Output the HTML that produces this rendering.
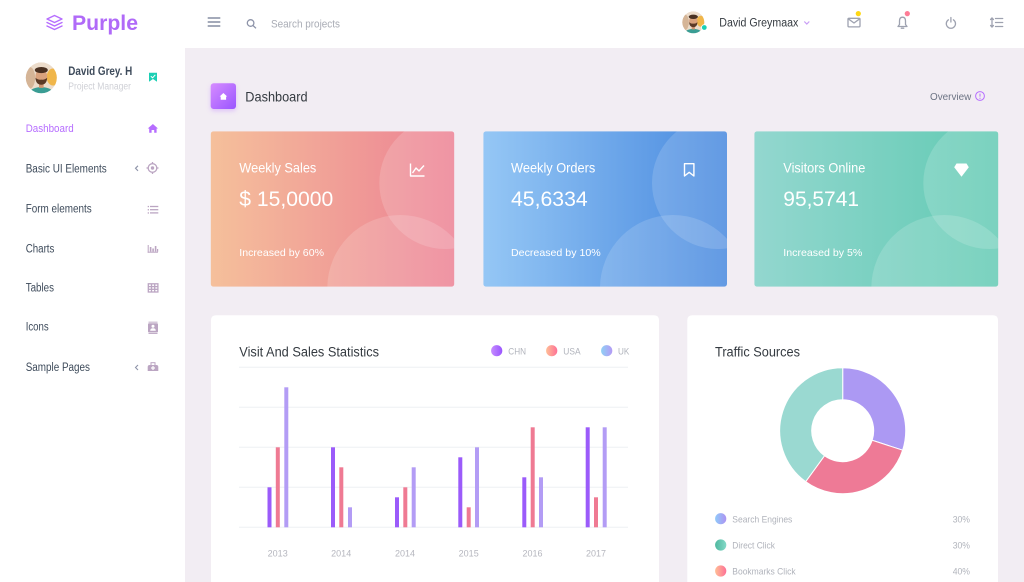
<!DOCTYPE html>
<html><head><meta charset="utf-8"><style>
html,body{margin:0;padding:0;}
body{width:1024px;height:582px;overflow:hidden;background:#f2edf3;}
svg{display:block;}
text{font-family:"Liberation Sans",Arial,sans-serif;}
</style></head><body>
<svg width="1024" height="582" viewBox="0 0 1024 582" xmlns="http://www.w3.org/2000/svg">
<defs>
<linearGradient id="gA" x1="0" y1="0" x2="1" y2="0"><stop offset="0" stop-color="#f5c09b"/><stop offset="1" stop-color="#ec8093"/></linearGradient>
<linearGradient id="gB" x1="0" y1="0" x2="1" y2="0"><stop offset="0" stop-color="#95c7f5"/><stop offset="1" stop-color="#4889df"/></linearGradient>
<linearGradient id="gC" x1="0" y1="0" x2="1" y2="0"><stop offset="0" stop-color="#93d7cf"/><stop offset="1" stop-color="#62cab3"/></linearGradient>
<linearGradient id="gIcon" x1="0" y1="0" x2="1" y2="1"><stop offset="0" stop-color="#d68cff"/><stop offset="1" stop-color="#9a55ff"/></linearGradient>
<linearGradient id="gChn" x1="0" y1="0" x2="1" y2="0"><stop offset="0" stop-color="#c58cff"/><stop offset="1" stop-color="#9a55ff"/></linearGradient>
<linearGradient id="gUsa" x1="0" y1="0" x2="1" y2="0"><stop offset="0" stop-color="#ffbf96"/><stop offset="1" stop-color="#fe7096"/></linearGradient>
<linearGradient id="gUk" x1="0" y1="0" x2="1" y2="0"><stop offset="0" stop-color="#8fd0f5"/><stop offset="1" stop-color="#b49af5"/></linearGradient>
<linearGradient id="gSE" x1="0" y1="0" x2="1" y2="0"><stop offset="0" stop-color="#90caf9"/><stop offset="1" stop-color="#ad93f2"/></linearGradient>
<linearGradient id="gDC" x1="0" y1="0" x2="1" y2="0"><stop offset="0" stop-color="#4fb89f"/><stop offset="1" stop-color="#84d9c8"/></linearGradient>
<linearGradient id="gBM" x1="0" y1="0" x2="1" y2="0"><stop offset="0" stop-color="#ffbf96"/><stop offset="1" stop-color="#fe7096"/></linearGradient>
<clipPath id="cA"><rect x="210.7" y="131.3" width="243.6" height="155.4" rx="3"/></clipPath>
<clipPath id="cB"><rect x="483.3" y="131.3" width="243.7" height="155.4" rx="3"/></clipPath>
<clipPath id="cC"><rect x="754.3" y="131.3" width="244" height="155.4" rx="3"/></clipPath>
<clipPath id="cAv" clipPathUnits="userSpaceOnUse"><circle cx="0" cy="0" r="1"/></clipPath>
<filter id="sh" x="-50%" y="-50%" width="200%" height="200%"><feDropShadow dx="0" dy="2" stdDeviation="2.5" flood-color="#b66dff" flood-opacity="0.35"/></filter>
</defs>

<!-- header & sidebar -->
<rect x="0" y="0" width="1024" height="48" fill="#ffffff"/>
<rect x="0" y="48" width="185" height="534" fill="#ffffff"/>

<!-- logo -->
<g fill="none" stroke="#b66dff" stroke-width="1.4" stroke-linejoin="round" stroke-linecap="round">
<path d="M54.5,15.5 L62,19 L54.5,22.5 L47,19 Z"/>
<path d="M47,22.5 L54.5,26 L62,22.5"/>
<path d="M47,26 L54.5,29.5 L62,26"/>
</g>
<text x="72" y="30" font-size="21" font-weight="bold" fill="#b06af8" textLength="66" lengthAdjust="spacingAndGlyphs">Purple</text>

<!-- hamburger & search -->
<g stroke="#8e94a9" stroke-width="1.6"><line x1="207.7" y1="18" x2="220.3" y2="18"/><line x1="207.7" y1="22" x2="220.3" y2="22"/><line x1="207.7" y1="26" x2="220.3" y2="26"/></g>
<g stroke="#8e94a9" stroke-width="1.3" fill="none"><circle cx="250.6" cy="23" r="3.3"/><line x1="253" y1="25.5" x2="256" y2="28.3"/></g>
<text x="271" y="27.3" font-size="11" fill="#a9acb5" textLength="69" lengthAdjust="spacingAndGlyphs">Search projects</text>

<!-- header right -->
<g transform="translate(693.3,22.3) scale(11)">
<g clip-path="url(#cAv)">
<circle r="1" fill="#ecdccb"/>
<ellipse cx="0.7" cy="-0.1" rx="0.4" ry="0.5" fill="#f0b64a"/>
<ellipse cx="-0.75" cy="0" rx="0.35" ry="0.7" fill="#d5b597"/>
<ellipse cx="0" cy="1.15" rx="0.9" ry="0.55" fill="#3a9d94"/>
<rect x="-0.15" y="0.3" width="0.3" height="0.35" fill="#cf9672"/>
<ellipse cx="0" cy="-0.08" rx="0.38" ry="0.48" fill="#d9a27d"/>
<ellipse cx="0" cy="-0.5" rx="0.42" ry="0.2" fill="#4a3122"/>
<path d="M-0.38,0 Q-0.35,0.45 0,0.45 Q0.35,0.45 0.38,0 Q0.2,0.15 0,0.12 Q-0.2,0.15 -0.38,0 Z" fill="#5b3a26"/>
</g></g>
<circle cx="704.3" cy="27.5" r="2.8" fill="#1bcfb4" stroke="#fff" stroke-width="0.8"/>
<text x="719.3" y="26.7" font-size="11.5" fill="#343a40" textLength="79" lengthAdjust="spacingAndGlyphs">David Greymaax</text>
<polyline points="804.3,21.5 806.8,24 809.3,21.5" fill="none" stroke="#c89cf5" stroke-width="1.2"/>
<g fill="none" stroke="#9ea2b0" stroke-width="1.3" stroke-linejoin="round" stroke-linecap="round">
<rect x="848" y="18.3" width="12" height="8.6" rx="1"/>
<polyline points="848.3,18.8 854,23 859.7,18.8"/>
<path d="M898,26.5 L899.5,24.5 L899.5,21 Q899.5,17.2 902.5,17.2 Q905.5,17.2 905.5,21 L905.5,24.5 L907,26.5 Z"/>
<path d="M901.3,28.2 L903.7,28.2"/>
<path d="M948.4,19.8 A4.6,4.6 0 1 0 953.4,19.8"/>
<line x1="950.9" y1="17.5" x2="950.9" y2="22"/>
<line x1="992" y1="18" x2="992" y2="27"/>
<polyline points="990.6,19.5 992,18 993.4,19.5"/>
<polyline points="990.6,25.5 992,27 993.4,25.5"/>
<line x1="995.5" y1="18.5" x2="1002.7" y2="18.5"/>
<line x1="995.5" y1="22.5" x2="1002.7" y2="22.5"/>
<line x1="995.5" y1="26.5" x2="1002.7" y2="26.5"/>
</g>
<circle cx="858.3" cy="13.6" r="2.6" fill="#fed713"/>
<circle cx="907.3" cy="13.6" r="2.6" fill="#fe7c96"/>

<!-- sidebar profile -->
<g transform="translate(41.3,77.8) scale(15.5)">
<g clip-path="url(#cAv)">
<circle r="1" fill="#ecdccb"/>
<ellipse cx="0.75" cy="-0.05" rx="0.4" ry="0.55" fill="#f0b64a"/>
<ellipse cx="-0.75" cy="0" rx="0.35" ry="0.7" fill="#d5b597"/>
<ellipse cx="0" cy="1.15" rx="0.9" ry="0.55" fill="#3a9d94"/>
<rect x="-0.15" y="0.3" width="0.3" height="0.35" fill="#cf9672"/>
<ellipse cx="0" cy="-0.08" rx="0.38" ry="0.48" fill="#d9a27d"/>
<ellipse cx="0" cy="-0.5" rx="0.42" ry="0.2" fill="#4a3122"/>
<path d="M-0.38,0 Q-0.35,0.45 0,0.45 Q0.35,0.45 0.38,0 Q0.2,0.15 0,0.12 Q-0.2,0.15 -0.38,0 Z" fill="#5b3a26"/>
</g></g>
<text x="68.3" y="75" font-size="11.5" font-weight="bold" fill="#3e4b5b" textLength="64" lengthAdjust="spacingAndGlyphs">David Grey. H</text>
<text x="68.3" y="89.3" font-size="10" fill="#cfd0d6" textLength="62.7" lengthAdjust="spacingAndGlyphs">Project Manager</text>
<path d="M149,72.7 L157,72.7 L157,81.7 L153,79 L149,81.7 Z" fill="#1bcfb4"/>
<polyline points="150.8,76.2 152.6,77.8 155.3,74.8" fill="none" stroke="#fff" stroke-width="1"/>

<!-- nav -->
<text x="25.7" y="132" font-size="11" fill="#b66dff" textLength="48" lengthAdjust="spacingAndGlyphs">Dashboard</text>
<path d="M147.7,128.5 L152.9,124 L158,128.5 L156.6,128.5 L156.6,132.7 L154.2,132.7 L154.2,130 L151.6,130 L151.6,132.7 L149.2,132.7 L149.2,128.5 Z" fill="#b66dff"/>
<g fill="#3e4b5b">
<text x="25.7" y="172.3" font-size="11.5" textLength="81" lengthAdjust="spacingAndGlyphs">Basic UI Elements</text>
<text x="25.7" y="212.7" font-size="11.5" textLength="66" lengthAdjust="spacingAndGlyphs">Form elements</text>
<text x="25.7" y="252.3" font-size="11.5" textLength="28.7" lengthAdjust="spacingAndGlyphs">Charts</text>
<text x="25.7" y="291.7" font-size="11.5" textLength="28.3" lengthAdjust="spacingAndGlyphs">Tables</text>
<text x="25.7" y="330.7" font-size="11.5" textLength="23" lengthAdjust="spacingAndGlyphs">Icons</text>
<text x="25.7" y="371" font-size="11.5" textLength="64.3" lengthAdjust="spacingAndGlyphs">Sample Pages</text>
</g>
<g fill="none" stroke="#8e94a9" stroke-width="1.1"><polyline points="138,165.8 135.5,168.3 138,170.8"/><polyline points="138,365 135.5,367.5 138,370"/></g>
<g stroke="#bba5c2" fill="none" stroke-width="1.3">
<circle cx="152.5" cy="168" r="4.3"/>
<line x1="152.5" y1="162" x2="152.5" y2="163.5"/><line x1="152.5" y1="172.5" x2="152.5" y2="174"/>
<line x1="146.5" y1="168" x2="148" y2="168"/><line x1="157" y1="168" x2="158.5" y2="168"/>
<line x1="150" y1="206.5" x2="158.3" y2="206.5"/><line x1="150" y1="209.7" x2="158.3" y2="209.7"/><line x1="150" y1="212.9" x2="158.3" y2="212.9"/>
<rect x="148.3" y="283.8" width="9.6" height="8.2"/>
<line x1="148.3" y1="286.6" x2="157.9" y2="286.6"/><line x1="148.3" y1="289.3" x2="157.9" y2="289.3"/>
<line x1="151.5" y1="283.8" x2="151.5" y2="292"/><line x1="154.7" y1="283.8" x2="154.7" y2="292"/>
</g>
<g fill="#bba5c2">
<circle cx="152.5" cy="168" r="1.7"/>
<rect x="147.7" y="205.9" width="1.3" height="1.3"/><rect x="147.7" y="209.1" width="1.3" height="1.3"/><rect x="147.7" y="212.3" width="1.3" height="1.3"/>
<rect x="147.7" y="245" width="1" height="7.7"/><rect x="147.7" y="251.7" width="10.3" height="1"/>
<rect x="149.8" y="247" width="1.6" height="4.7"/><rect x="152.3" y="248.5" width="1.6" height="3.2"/><rect x="154.8" y="246" width="1.6" height="5.7"/><rect x="157" y="249" width="1.2" height="2.7"/>
<rect x="148" y="323.3" width="10" height="9.2" rx="1"/>
<rect x="148.5" y="321.7" width="9" height="0.9"/><rect x="148.5" y="333" width="9" height="0.9"/>
<path d="M149.7,365 L156.3,365 Q158.3,365 158.3,367 L158.3,371 L147.7,371 L147.7,367 Q147.7,365 149.7,365 Z"/>
<rect x="151" y="362.7" width="4" height="2.8" fill="none" stroke="#bba5c2" stroke-width="1"/>
</g>
<g fill="#fff"><circle cx="153" cy="326.2" r="1.5"/><path d="M150.2,330.8 Q150.2,328.3 153,328.3 Q155.8,328.3 155.8,330.8 Z"/>
<rect x="152.4" y="366" width="1.2" height="4"/><rect x="151" y="367.4" width="4" height="1.2"/></g>

<!-- page title -->
<rect x="210.7" y="83.3" width="25.3" height="25.7" rx="3" fill="url(#gIcon)" filter="url(#sh)"/>
<path d="M219.6,96.5 L223.4,93 L227.2,96.5 L226.1,96.5 L226.1,99.8 L220.7,99.8 L220.7,96.5 Z" fill="#fff"/>
<text x="245.3" y="101.7" font-size="14" fill="#343a40" textLength="62.3" lengthAdjust="spacingAndGlyphs">Dashboard</text>
<text x="930" y="100" font-size="10.5" fill="#6c7383" textLength="41.3" lengthAdjust="spacingAndGlyphs">Overview</text>
<circle cx="980" cy="96" r="4.4" fill="none" stroke="#b66dff" stroke-width="1"/>
<line x1="980" y1="93.6" x2="980" y2="96.6" stroke="#b66dff" stroke-width="1"/>
<circle cx="980" cy="98.2" r="0.6" fill="#b66dff"/>

<!-- cards -->
<g clip-path="url(#cA)">
<rect x="210.7" y="131.3" width="243.6" height="155.4" fill="url(#gA)"/>
<circle cx="445.3" cy="183" r="66" fill="#fff" fill-opacity="0.16"/>
<circle cx="400.3" cy="288" r="73" fill="#fff" fill-opacity="0.16"/>
</g>
<g clip-path="url(#cB)">
<rect x="483.3" y="131.3" width="243.7" height="155.4" fill="url(#gB)"/>
<circle cx="718" cy="183" r="66" fill="#fff" fill-opacity="0.15"/>
<circle cx="673" cy="288" r="73" fill="#fff" fill-opacity="0.15"/>
</g>
<g clip-path="url(#cC)">
<rect x="754.3" y="131.3" width="244" height="155.4" fill="url(#gC)"/>
<circle cx="989.3" cy="183" r="66" fill="#fff" fill-opacity="0.16"/>
<circle cx="944.3" cy="288" r="73" fill="#fff" fill-opacity="0.16"/>
</g>
<g fill="#fff">
<text x="239.3" y="172.3" font-size="14" textLength="77" lengthAdjust="spacingAndGlyphs">Weekly Sales</text>
<text x="239.3" y="206" font-size="21" textLength="94" lengthAdjust="spacingAndGlyphs">$ 15,0000</text>
<text x="239.3" y="256" font-size="10.5" textLength="84.7" lengthAdjust="spacingAndGlyphs">Increased by 60%</text>
<text x="511" y="172.3" font-size="14" textLength="84.3" lengthAdjust="spacingAndGlyphs">Weekly Orders</text>
<text x="511" y="206" font-size="21" textLength="76.7" lengthAdjust="spacingAndGlyphs">45,6334</text>
<text x="511" y="256" font-size="10.5" textLength="89.7" lengthAdjust="spacingAndGlyphs">Decreased by 10%</text>
<text x="783.3" y="172.3" font-size="14" textLength="82" lengthAdjust="spacingAndGlyphs">Visitors Online</text>
<text x="783.3" y="206" font-size="21" textLength="75.7" lengthAdjust="spacingAndGlyphs">95,5741</text>
<text x="783.3" y="256" font-size="10.5" textLength="79" lengthAdjust="spacingAndGlyphs">Increased by 5%</text>
<path d="M956.5,163.5 L966.5,163.5 L968.8,167.2 L961.5,176.8 L954.2,167.2 Z"/>
</g>
<g fill="none" stroke="#fff" stroke-width="1.4" stroke-linejoin="round">
<polyline points="410.5,163.5 410.5,176 424.5,176"/>
<polyline points="412.5,173 416,168 419,171 424,165.5"/>
<path d="M684.5,163.7 L693.9,163.7 L693.9,176 L689.2,172.3 L684.5,176 Z"/>
</g>

<!-- chart panel -->
<path d="M211,582 L211,320.3 Q211,315.3 216,315.3 L654,315.3 Q659,315.3 659,320.3 L659,582 Z" fill="#fff"/>
<text x="239.3" y="356.7" font-size="13.5" fill="#343a40" textLength="139.7" lengthAdjust="spacingAndGlyphs">Visit And Sales Statistics</text>
<circle cx="496.7" cy="350.7" r="5.6" fill="url(#gChn)"/>
<circle cx="551.7" cy="350.7" r="5.6" fill="url(#gUsa)"/>
<circle cx="606.7" cy="350.7" r="5.6" fill="url(#gUk)"/>
<g fill="#b0b3bb" font-size="9">
<text x="508.3" y="354.3" textLength="17.7" lengthAdjust="spacingAndGlyphs">CHN</text>
<text x="563.3" y="354.3" textLength="17.3" lengthAdjust="spacingAndGlyphs">USA</text>
<text x="618" y="354.3" textLength="11.3" lengthAdjust="spacingAndGlyphs">UK</text>
</g>
<g stroke="#eef0f4" stroke-width="1">
<line x1="239" y1="367.3" x2="628" y2="367.3"/>
<line x1="239" y1="407.3" x2="628" y2="407.3"/>
<line x1="239" y1="447.3" x2="628" y2="447.3"/>
<line x1="239" y1="487.3" x2="628" y2="487.3"/>
<line x1="239" y1="527.3" x2="628" y2="527.3"/>
</g>
<g fill="#9b5bfa">
<rect x="267.5" y="487.3" width="4" height="40"/>
<rect x="331" y="447.3" width="4" height="80"/>
<rect x="395" y="497.3" width="4" height="30"/>
<rect x="458.3" y="457.3" width="4" height="70"/>
<rect x="522.3" y="477.3" width="4" height="50"/>
<rect x="585.7" y="427.3" width="4" height="100"/>
</g>
<g fill="#ef7a93">
<rect x="275.8" y="447.3" width="4" height="80"/>
<rect x="339.3" y="467.3" width="4" height="60"/>
<rect x="403.3" y="487.3" width="4" height="40"/>
<rect x="466.7" y="507.3" width="4" height="20"/>
<rect x="530.7" y="427.3" width="4" height="100"/>
<rect x="594" y="497.3" width="4" height="30"/>
</g>
<g fill="#b39cf5">
<rect x="284.3" y="387.3" width="4" height="140"/>
<rect x="348" y="507.3" width="4" height="20"/>
<rect x="411.7" y="467.3" width="4" height="60"/>
<rect x="475" y="447.3" width="4" height="80"/>
<rect x="539" y="477.3" width="4" height="50"/>
<rect x="602.7" y="427.3" width="4" height="100"/>
</g>
<g fill="#b5b6be" font-size="9" text-anchor="middle">
<text x="277.7" y="556.7">2013</text>
<text x="341.2" y="556.7">2014</text>
<text x="405" y="556.7">2014</text>
<text x="468.7" y="556.7">2015</text>
<text x="532.5" y="556.7">2016</text>
<text x="596" y="556.7">2017</text>
</g>

<!-- traffic panel -->
<path d="M687.3,582 L687.3,320.3 Q687.3,315.3 692.3,315.3 L993,315.3 Q998,315.3 998,320.3 L998,582 Z" fill="#fff"/>
<text x="715" y="356.7" font-size="13.5" fill="#343a40" textLength="85" lengthAdjust="spacingAndGlyphs">Traffic Sources</text>
<g stroke="#fff" stroke-width="1">
<path d="M842.7,367.7 A63,63 0 0 1 902.62,450.17 L872.18,440.28 A31,31 0 0 0 842.7,399.7 Z" fill="#ac99f3"/>
<path d="M902.62,450.17 A63,63 0 0 1 805.67,481.67 L824.48,455.78 A31,31 0 0 0 872.18,440.28 Z" fill="#ee7a96"/>
<path d="M805.67,481.67 A63,63 0 0 1 842.7,367.7 L842.7,399.7 A31,31 0 0 0 824.48,455.78 Z" fill="#9ad9d1"/>
</g>
<circle cx="720.7" cy="518.7" r="5.6" fill="url(#gSE)"/>
<circle cx="720.7" cy="545" r="5.6" fill="url(#gDC)"/>
<circle cx="720.7" cy="571" r="5.6" fill="url(#gBM)"/>
<g fill="#b0b3bb" font-size="9.5">
<text x="732.3" y="522.3" textLength="60" lengthAdjust="spacingAndGlyphs">Search Engines</text>
<text x="732.3" y="548.6" textLength="42.7" lengthAdjust="spacingAndGlyphs">Direct Click</text>
<text x="732.3" y="574.6" textLength="63.3" lengthAdjust="spacingAndGlyphs">Bookmarks Click</text>
<text x="952.7" y="522.3" textLength="17.3" lengthAdjust="spacingAndGlyphs">30%</text>
<text x="952.7" y="548.6" textLength="17.3" lengthAdjust="spacingAndGlyphs">30%</text>
<text x="952.7" y="574.6" textLength="17.3" lengthAdjust="spacingAndGlyphs">40%</text>
</g>
</svg>
</body></html>
